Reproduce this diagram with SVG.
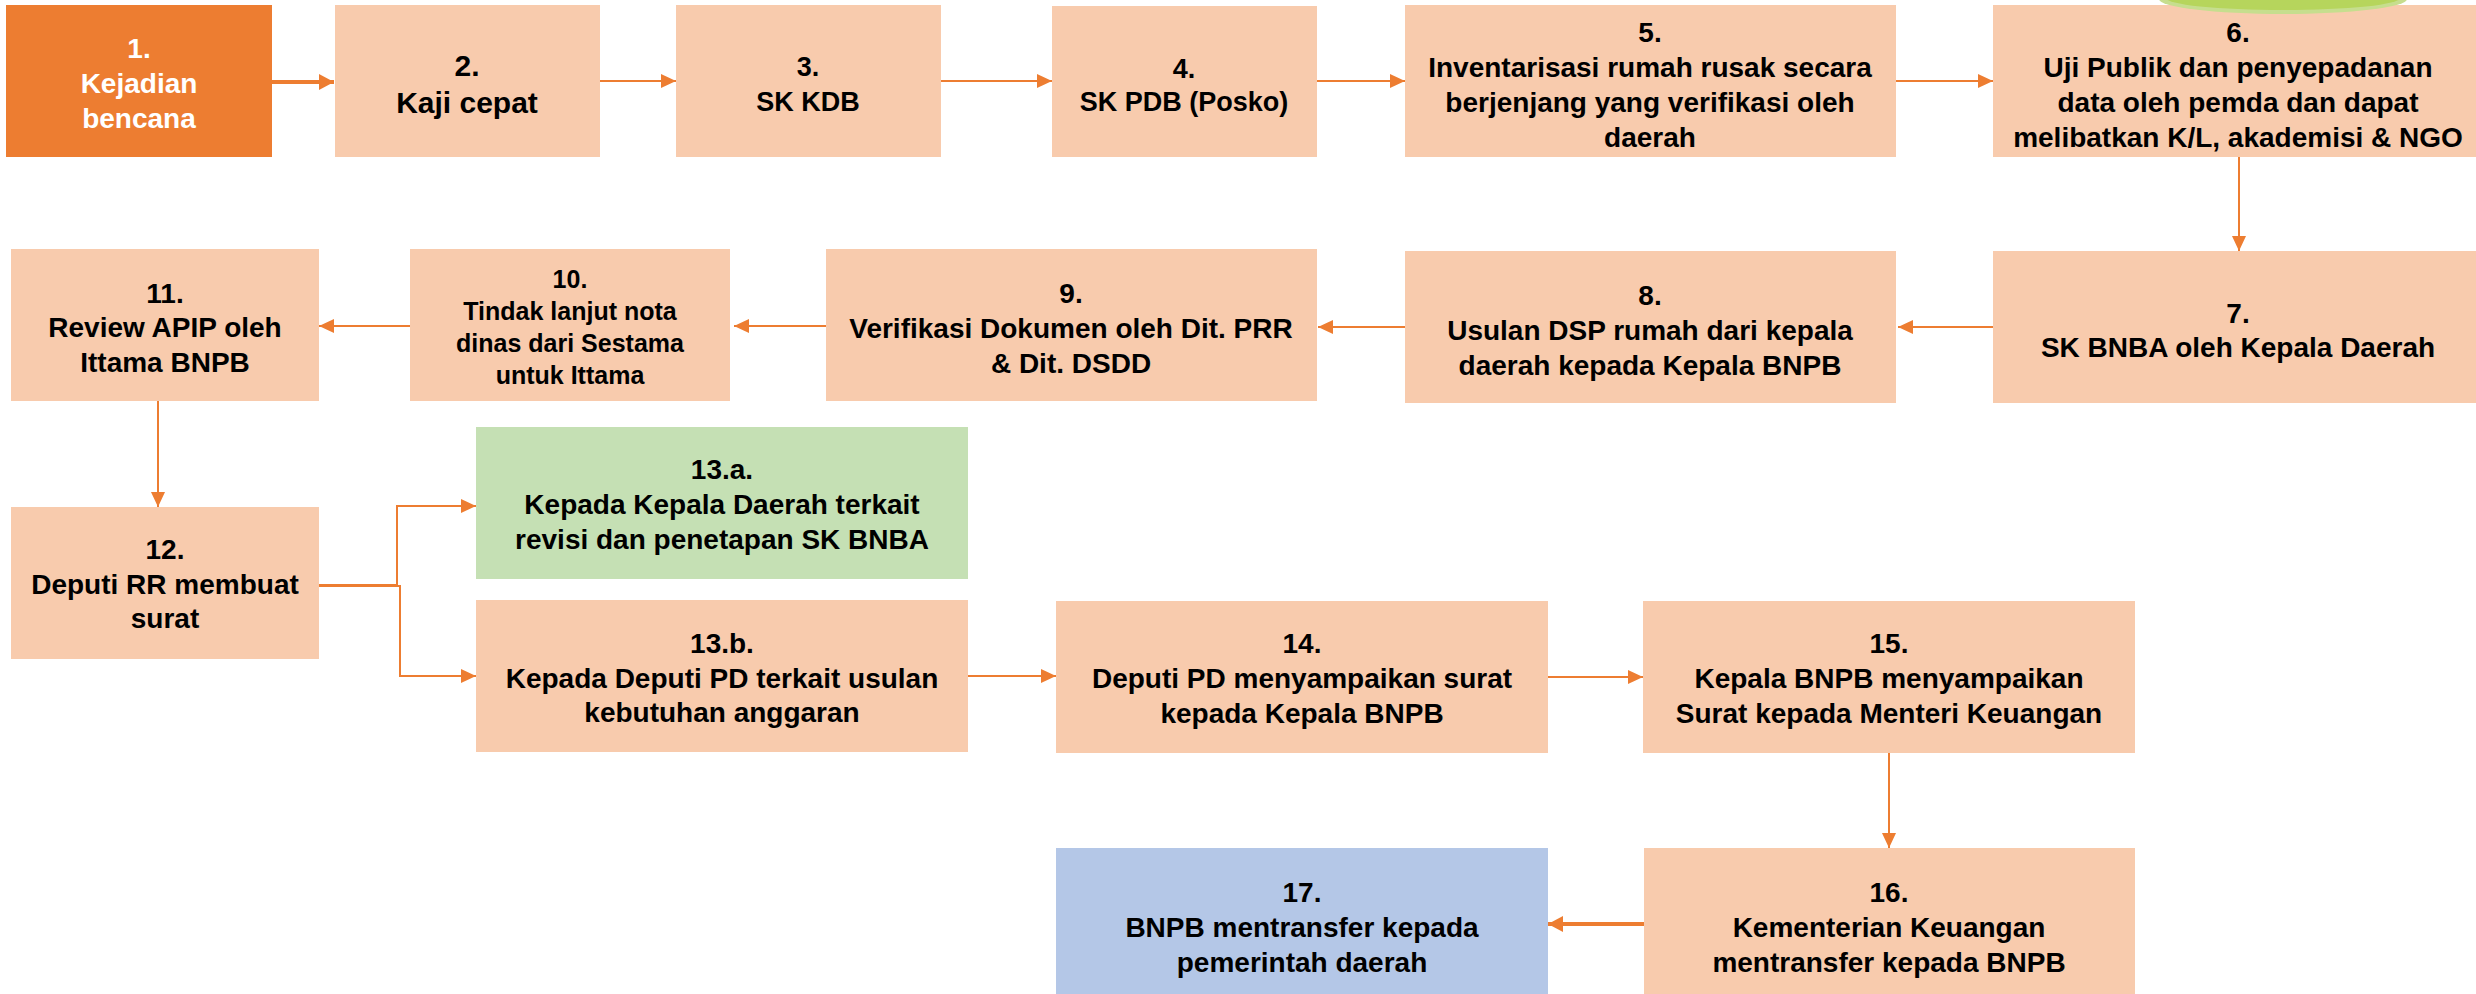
<svg xmlns="http://www.w3.org/2000/svg" width="2476" height="994" viewBox="0 0 2476 994">
<style>
.pe{fill:#F8CBAD}
.or{fill:#ED7D31}
.gr{fill:#C5E0B4}
.bl{fill:#B4C7E7}
text{font-family:"Liberation Sans",Arial,sans-serif;font-weight:bold;font-size:28px;fill:#000;text-anchor:middle}
text.w{fill:#fff}
.c{fill:none;stroke:#ED7D31;stroke-width:2}
.ct{fill:none;stroke:#ED7D31;stroke-width:4}
</style>
<defs>
<marker id="a" markerUnits="userSpaceOnUse" markerWidth="16" markerHeight="14" refX="15" refY="7" orient="auto"><path d="M0,0 L15,7 L0,14 Z" fill="#ED7D31"/></marker>
<marker id="at" markerUnits="userSpaceOnUse" markerWidth="16" markerHeight="16" refX="15" refY="8" orient="auto"><path d="M0,0 L15,8 L0,16 Z" fill="#ED7D31"/></marker>
</defs>
<rect width="2476" height="994" fill="#fff"/>

<g id="connectors">
<path class="ct" d="M272,82 H334" marker-end="url(#at)"/>
<path class="c" d="M600,81 H676" marker-end="url(#a)"/>
<path class="c" d="M941,81 H1052" marker-end="url(#a)"/>
<path class="c" d="M1317,81 H1405" marker-end="url(#a)"/>
<path class="c" d="M1896,81 H1993" marker-end="url(#a)"/>
<path class="c" d="M2239,157 V251" marker-end="url(#a)"/>
<path class="c" d="M1993,327 H1898" marker-end="url(#a)"/>
<path class="c" d="M1405,327 H1318" marker-end="url(#a)"/>
<path class="c" d="M826,326 H734" marker-end="url(#a)"/>
<path class="c" d="M410,326 H319" marker-end="url(#a)"/>
<path class="c" d="M158,401 V507" marker-end="url(#a)"/>
<path class="c" d="M319,585 H397 V506 H476" marker-end="url(#a)"/>
<path class="c" d="M319,586 H400 V676 H476" marker-end="url(#a)"/>
<path class="c" d="M968,676 H1056" marker-end="url(#a)"/>
<path class="c" d="M1548,677 H1643" marker-end="url(#a)"/>
<path class="c" d="M1889,753 V848" marker-end="url(#a)"/>
<path class="ct" d="M1644,924 H1548" marker-end="url(#at)"/>
</g>

<g id="n1"><rect class="or" x="6" y="5" width="266" height="152"/>
<text class="w" x="139" y="58">1.</text><text class="w" x="139" y="93">Kejadian</text><text class="w" x="139" y="128">bencana</text></g>

<g id="n2"><rect class="pe" x="335" y="5" width="265" height="152"/>
<text x="467" y="76" style="font-size:30px">2.</text><text x="467" y="113" style="font-size:30px">Kaji cepat</text></g>

<g id="n3"><rect class="pe" x="676" y="5" width="265" height="152"/>
<text x="808" y="76" style="font-size:27px">3.</text><text x="808" y="111" style="font-size:27px">SK KDB</text></g>

<g id="n4"><rect class="pe" x="1052" y="6" width="265" height="151"/>
<text x="1184" y="78" style="font-size:27px">4.</text><text x="1184" y="111" style="font-size:27px">SK PDB (Posko)</text></g>

<g id="n5"><rect class="pe" x="1405" y="5" width="491" height="152"/>
<text x="1650" y="42">5.</text><text x="1650" y="77">Inventarisasi rumah rusak secara</text><text x="1650" y="112">berjenjang yang verifikasi oleh</text><text x="1650" y="147">daerah</text></g>

<g id="n6"><rect class="pe" x="1993" y="5" width="491" height="152"/>
<text x="2238" y="42">6.</text><text x="2238" y="77">Uji Publik dan penyepadanan</text><text x="2238" y="112">data oleh pemda dan dapat</text><text x="2238" y="147">melibatkan K/L, akademisi &amp; NGO</text></g>

<g id="decor">
<ellipse cx="2283" cy="-1" rx="124" ry="15" fill="#C6DE8E"/>
<ellipse cx="2283" cy="-2" rx="117" ry="12" fill="#B6D55C"/>
</g>

<g id="n7"><rect class="pe" x="1993" y="251" width="491" height="152"/>
<text x="2238" y="323">7.</text><text x="2238" y="357">SK BNBA oleh Kepala Daerah</text></g>

<g id="n8"><rect class="pe" x="1405" y="251" width="491" height="152"/>
<text x="1650" y="305">8.</text><text x="1650" y="340">Usulan DSP rumah dari kepala</text><text x="1650" y="375">daerah kepada Kepala BNPB</text></g>

<g id="n9"><rect class="pe" x="826" y="249" width="491" height="152"/>
<text x="1071" y="303">9.</text><text x="1071" y="338">Verifikasi Dokumen oleh Dit. PRR</text><text x="1071" y="373">&amp; Dit. DSDD</text></g>

<g id="n10"><rect class="pe" x="410" y="249" width="320" height="152"/>
<text x="570" y="288" style="font-size:25px">10.</text><text x="570" y="320" style="font-size:25px">Tindak lanjut nota</text><text x="570" y="352" style="font-size:25px">dinas dari Sestama</text><text x="570" y="384" style="font-size:25px">untuk Ittama</text></g>

<g id="n11"><rect class="pe" x="11" y="249" width="308" height="152"/>
<text x="165" y="303">11.</text><text x="165" y="337">Review APIP oleh</text><text x="165" y="372">Ittama BNPB</text></g>

<g id="n12"><rect class="pe" x="11" y="507" width="308" height="152"/>
<text x="165" y="559">12.</text><text x="165" y="594">Deputi RR membuat</text><text x="165" y="628">surat</text></g>

<g id="n13a"><rect class="gr" x="476" y="427" width="492" height="152"/>
<text x="722" y="479">13.a.</text><text x="722" y="514">Kepada Kepala Daerah terkait</text><text x="722" y="549">revisi dan penetapan SK BNBA</text></g>

<g id="n13b"><rect class="pe" x="476" y="600" width="492" height="152"/>
<text x="722" y="653">13.b.</text><text x="722" y="688">Kepada Deputi PD terkait usulan</text><text x="722" y="722">kebutuhan anggaran</text></g>

<g id="n14"><rect class="pe" x="1056" y="601" width="492" height="152"/>
<text x="1302" y="653">14.</text><text x="1302" y="688">Deputi PD menyampaikan surat</text><text x="1302" y="723">kepada Kepala BNPB</text></g>

<g id="n15"><rect class="pe" x="1643" y="601" width="492" height="152"/>
<text x="1889" y="653">15.</text><text x="1889" y="688">Kepala BNPB menyampaikan</text><text x="1889" y="723">Surat kepada Menteri Keuangan</text></g>

<g id="n16"><rect class="pe" x="1644" y="848" width="491" height="150"/>
<text x="1889" y="902">16.</text><text x="1889" y="937">Kementerian Keuangan</text><text x="1889" y="972">mentransfer kepada BNPB</text></g>

<g id="n17"><rect class="bl" x="1056" y="848" width="492" height="150"/>
<text x="1302" y="902">17.</text><text x="1302" y="937">BNPB mentransfer kepada</text><text x="1302" y="972">pemerintah daerah</text></g>
</svg>
